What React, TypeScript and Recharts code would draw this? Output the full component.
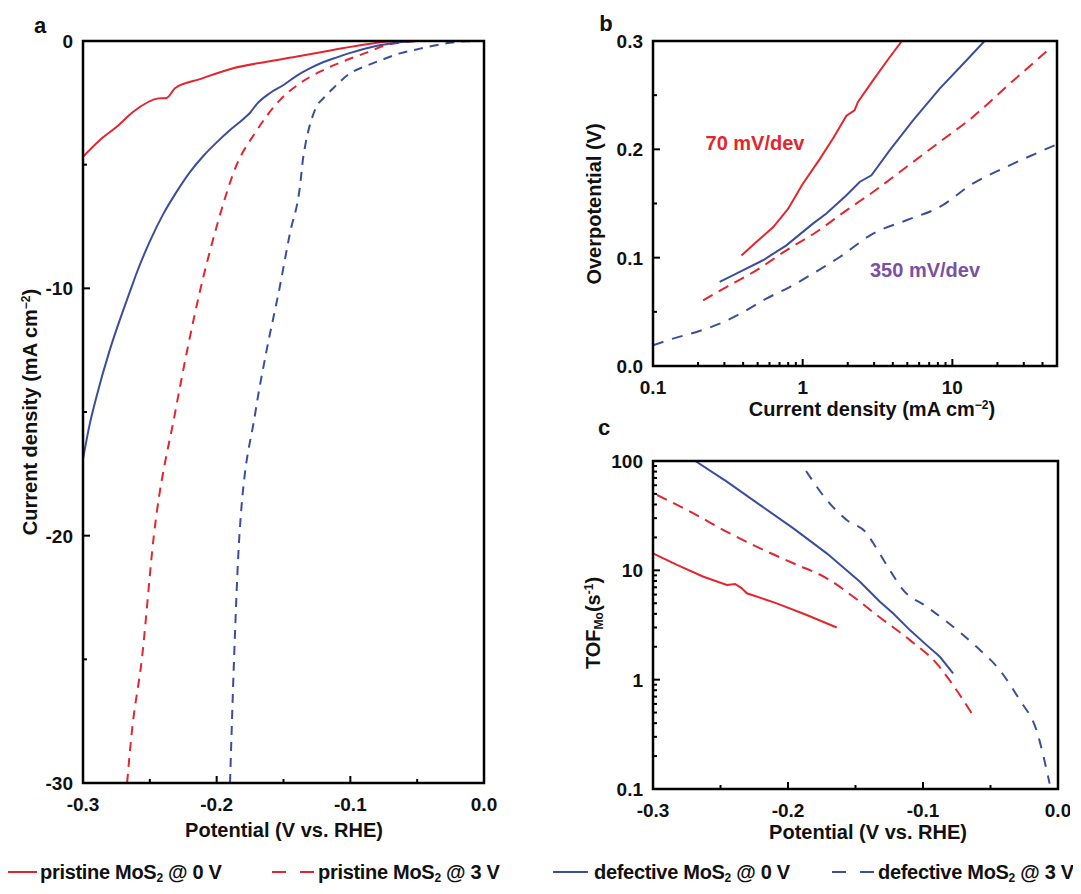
import React from 'react';
import { LineChart, Line, XAxis, YAxis } from 'recharts';

const RED = '#e3262d';
const BLUE = '#3a4e9b';
const FONT = '"Liberation Sans", Arial, sans-serif';

// panel a: linear sweep voltammetry, [potential V vs RHE, current density mA/cm2]
const lsvPristine0V: [number, number][] = [
  [-0.3, -4.68], [-0.2873, -4.0], [-0.2748, -3.47], [-0.2624, -2.86], [-0.2437, -2.32], [-0.2374, -2.3],
  [-0.2312, -1.91], [-0.2125, -1.54], [-0.1876, -1.1], [-0.1626, -0.84], [-0.1377, -0.61], [-0.1128, -0.36],
  [-0.0878, -0.13], [-0.068, -0.01], [-0.05, 0], [0, 0],
];
const lsvPristine3V: [number, number][] = [
  [-0.267, -30], [-0.2636, -28], [-0.256, -25], [-0.247, -20], [-0.231, -15], [-0.212, -10], [-0.2, -7.5],
  [-0.185, -5], [-0.1714, -3.73], [-0.1527, -2.39], [-0.1377, -1.71], [-0.1227, -1.24], [-0.1028, -0.77],
  [-0.0878, -0.47], [-0.0729, -0.16], [-0.058, -0.04], [-0.046, 0], [0, 0],
];
const lsvDefective0V: [number, number][] = [
  [-0.3, -16.9], [-0.295, -15.5], [-0.29, -14.4], [-0.28, -12.5], [-0.27, -10.9], [-0.264, -10.0], [-0.26, -9.4],
  [-0.25, -8.1], [-0.24, -7.0], [-0.23, -6.1], [-0.22, -5.3], [-0.21, -4.65], [-0.2, -4.1], [-0.19, -3.6],
  [-0.18, -3.15], [-0.175, -2.9], [-0.17, -2.55], [-0.16, -2.1], [-0.15, -1.78], [-0.14, -1.4], [-0.13, -1.1],
  [-0.12, -0.85], [-0.11, -0.66], [-0.1, -0.48], [-0.09, -0.32], [-0.08, -0.19], [-0.07, -0.1], [-0.06, -0.03],
  [-0.05, 0], [0, 0],
];
const lsvDefective3V: [number, number][] = [
  [-0.19, -30], [-0.187, -25], [-0.183, -20], [-0.171, -15], [-0.1626, -12.5], [-0.153, -10], [-0.1452, -7.78],
  [-0.1377, -5.89], [-0.1352, -4.68], [-0.134, -4.3], [-0.1265, -2.79], [-0.119, -2.25], [-0.1128, -1.91],
  [-0.1003, -1.31], [-0.0878, -1.0], [-0.0754, -0.74], [-0.0629, -0.5], [-0.0504, -0.34], [-0.038, -0.19],
  [-0.0255, -0.07], [-0.013, -0.01], [0, 0],
];

// panel b: Tafel plots, [current density mA/cm2, overpotential V]
const tafelPristine0V: [number, number][] = [
  [0.39, 0.102], [0.49, 0.1145], [0.634, 0.128], [0.798, 0.145], [1.0, 0.168], [1.3, 0.191], [1.594, 0.21],
  [1.96, 0.231], [2.22, 0.236], [2.34, 0.2437], [2.95, 0.2637], [3.81, 0.285], [4.6, 0.3],
];
const tafelPristine3V: [number, number][] = [
  [0.216, 0.0606], [0.309, 0.0729], [0.49, 0.0883], [0.778, 0.1068], [1.235, 0.1237], [1.96, 0.1437],
  [2.95, 0.1606], [4.93, 0.1837], [8.23, 0.2068], [13.7, 0.2299], [22.9, 0.2576], [44.7, 0.293],
];
const tafelDefective0V: [number, number][] = [
  [0.279, 0.0776], [0.38, 0.0868], [0.543, 0.0976], [0.778, 0.1114], [1.17, 0.1314], [1.44, 0.1407],
  [1.96, 0.1576], [2.4, 0.1699], [2.88, 0.176], [3.81, 0.199], [5.46, 0.2268], [8.23, 0.256], [12.4, 0.282],
  [16.4, 0.3],
];
const tafelDefective3V: [number, number][] = [
  [0.1, 0.0191], [0.136, 0.0253], [0.195, 0.0314], [0.279, 0.0391], [0.4, 0.0498], [0.571, 0.0622],
  [0.818, 0.0729], [1.17, 0.0853], [1.77, 0.1006], [2.95, 0.1222], [4.93, 0.1345], [8.23, 0.1468],
  [13.7, 0.1684], [22.9, 0.1837], [48.2, 0.2037],
];

// panel c: turnover frequency, [potential V vs RHE, TOF s-1]
const tofPristine0V: [number, number][] = [
  [-0.3, 14.3], [-0.2822, 11.2], [-0.2626, 8.74], [-0.2453, 7.34], [-0.2391, 7.5], [-0.2342, 6.84],
  [-0.2305, 6.17], [-0.2083, 4.99], [-0.1861, 3.9], [-0.1639, 3.0],
];
const tofPristine3V: [number, number][] = [
  [-0.297, 48.9], [-0.27, 33.2], [-0.2453, 22.5], [-0.2206, 15.9], [-0.196, 11.6], [-0.1713, 8.46],
  [-0.1516, 5.73], [-0.1343, 3.9], [-0.1097, 2.3], [-0.09, 1.41], [-0.0751, 0.8], [-0.0629, 0.47],
];
const tofDefective0V: [number, number][] = [
  [-0.2687, 100], [-0.2453, 64.7], [-0.2206, 39.5], [-0.196, 24.2], [-0.1713, 14.3], [-0.1467, 7.87],
  [-0.1319, 5.17], [-0.122, 4.03], [-0.1097, 2.84], [-0.0973, 2.07], [-0.0875, 1.62], [-0.0777, 1.14],
];
const tofDefective3V: [number, number][] = [
  [-0.1866, 81], [-0.1713, 44], [-0.1565, 28.8], [-0.1417, 21.8], [-0.1368, 17.7], [-0.1245, 10],
  [-0.1146, 6.6], [-0.0973, 4.65], [-0.0777, 3.05], [-0.0604, 2.0], [-0.0431, 1.22], [-0.0283, 0.65],
  [-0.016, 0.346], [-0.0062, 0.112],
];

// ticks
const potentialTicks = [-0.3, -0.25, -0.2, -0.15, -0.1, -0.05, 0];
const potentialLabels = [-0.3, -0.2, -0.1, 0];
const currentTicks = [-30, -25, -20, -15, -10, -5, 0];
const currentLabels = [-30, -20, -10, 0];
const etaTicks = [0, 0.05, 0.1, 0.15, 0.2, 0.25, 0.3];
const etaLabels = [0, 0.1, 0.2, 0.3];
const jLogTicks = [0.1, 0.2, 0.3, 0.4, 0.5, 0.6, 0.7, 0.8, 0.9, 1, 2, 3, 4, 5, 6, 7, 8, 9, 10, 20, 30, 40];
const jLogLabels = [0.1, 1, 10];
const tofTicks = [0.1, 0.2, 0.3, 0.4, 0.5, 0.6, 0.7, 0.8, 0.9, 1, 2, 3, 4, 5, 6, 7, 8, 9, 10, 20, 30, 40, 50, 60, 70, 80, 90, 100];
const tofLabels = [0.1, 1, 10, 100];

const pts = (a: [number, number][]) => a.map(([x, y]) => ({ x, y }));
const near = (a: number, b: number) => Math.abs(a - b) < 1e-9;

const tickText: React.CSSProperties = { fontFamily: FONT, fontWeight: 700, fontSize: 19, fill: '#111' };

const makeXTick = (labels: number[], fmt: (v: number) => string) => (p: any) => {
  const { x, y, payload } = p;
  const major = labels.some((l) => near(l, payload.value));
  return (
    <g>
      <line x1={x} x2={x} y1={y} y2={y - (major ? 7 : 4)} stroke="#000" strokeWidth={2} />
      {major && (
        <text x={x} y={y + 28} textAnchor="middle" style={tickText}>
          {fmt(payload.value)}
        </text>
      )}
    </g>
  );
};

const makeYTick = (labels: number[], fmt: (v: number) => string) => (p: any) => {
  const { x, y, payload } = p;
  const major = labels.some((l) => near(l, payload.value));
  return (
    <g>
      <line x1={x} x2={x + (major ? 7 : 4)} y1={y} y2={y} stroke="#000" strokeWidth={2} />
      {major && (
        <text x={x - 10} y={y + 7} textAnchor="end" style={tickText}>
          {fmt(payload.value)}
        </text>
      )}
    </g>
  );
};

const fmt1 = (v: number) => v.toFixed(1);
const fmtInt = (v: number) => String(v);
const fmtLog = (v: number) => String(v);

const axisLine = { stroke: '#000', strokeWidth: 2 };

const Title = ({ left, top, rotate, children, size = 20 }: { left: number; top: number; rotate?: boolean; children: React.ReactNode; size?: number }) => (
  <div
    style={{
      position: 'absolute',
      left,
      top,
      transform: `translate(-50%, -50%)${rotate ? ' rotate(-90deg)' : ''}`,
      whiteSpace: 'nowrap',
      fontFamily: FONT,
      fontWeight: 700,
      fontSize: size,
      color: '#111',
      lineHeight: 1,
    }}
  >
    {children}
  </div>
);

const Sup = ({ children }: { children: React.ReactNode }) => (
  <span style={{ fontSize: '0.6em', verticalAlign: '0.6em' }}>{children}</span>
);
const Sub = ({ children }: { children: React.ReactNode }) => (
  <span style={{ fontSize: '0.6em', verticalAlign: '-0.3em' }}>{children}</span>
);

// full box around a plot area, drawn over the chart
const Box = ({ left, top, right, bottom }: { left: number; top: number; right: number; bottom: number }) => (
  <svg
    style={{ position: 'absolute', left: left - 2, top: top - 2, pointerEvents: 'none', zIndex: 5 }}
    width={right - left + 4}
    height={bottom - top + 4}
  >
    <rect x={2} y={2} width={right - left} height={bottom - top} fill="none" stroke="#000" strokeWidth={2.5} />
  </svg>
);

const PanelA = () => (
  <LineChart width={500} height={830} margin={{ top: 41, right: 16, bottom: 0, left: 0 }}>
    <XAxis
      dataKey="x"
      type="number"
      domain={[-0.3, 0]}
      ticks={potentialTicks}
      interval={0}
      allowDataOverflow
      tickSize={0}
      tickMargin={0}
      tickLine={false}
      axisLine={axisLine}
      height={47}
      tick={makeXTick(potentialLabels, fmt1)}
    />
    <YAxis
      type="number"
      domain={[-30, 0]}
      ticks={currentTicks}
      interval={0}
      allowDataOverflow
      tickSize={0}
      tickMargin={0}
      tickLine={false}
      axisLine={axisLine}
      width={83}
      tick={makeYTick(currentLabels, fmtInt)}
    />
    <Line data={pts(lsvPristine0V)} dataKey="y" type="monotone" stroke={RED} strokeWidth={2} dot={false} isAnimationActive={false} />
    <Line data={pts(lsvPristine3V)} dataKey="y" type="monotone" stroke={RED} strokeWidth={2} strokeDasharray="9 7" dot={false} isAnimationActive={false} />
    <Line data={pts(lsvDefective0V)} dataKey="y" type="monotone" stroke={BLUE} strokeWidth={2} dot={false} isAnimationActive={false} />
    <Line data={pts(lsvDefective3V)} dataKey="y" type="monotone" stroke={BLUE} strokeWidth={2} strokeDasharray="9 7" dot={false} isAnimationActive={false} />
  </LineChart>
);

const PanelB = () => (
  <LineChart width={510} height={400} margin={{ top: 41, right: 13, bottom: 0, left: 0 }}>
    <XAxis
      dataKey="x"
      type="number"
      scale="log"
      domain={[0.1, 50]}
      ticks={jLogTicks}
      interval={0}
      allowDataOverflow
      tickSize={0}
      tickMargin={0}
      tickLine={false}
      axisLine={axisLine}
      height={34}
      tick={makeXTick(jLogLabels, fmtLog)}
    />
    <YAxis
      type="number"
      domain={[0, 0.3]}
      ticks={etaTicks}
      interval={0}
      allowDataOverflow
      tickSize={0}
      tickMargin={0}
      tickLine={false}
      axisLine={axisLine}
      width={93}
      tick={makeYTick(etaLabels, fmt1)}
    />
    <Line data={pts(tafelPristine0V)} dataKey="y" type="linear" stroke={RED} strokeWidth={2} dot={false} isAnimationActive={false} />
    <Line data={pts(tafelPristine3V)} dataKey="y" type="monotone" stroke={RED} strokeWidth={2} strokeDasharray="11 7" dot={false} isAnimationActive={false} />
    <Line data={pts(tafelDefective0V)} dataKey="y" type="linear" stroke={BLUE} strokeWidth={2} dot={false} isAnimationActive={false} />
    <Line data={pts(tafelDefective3V)} dataKey="y" type="monotone" stroke={BLUE} strokeWidth={2} strokeDasharray="11 9" dot={false} isAnimationActive={false} />
  </LineChart>
);

const PanelC = () => (
  <LineChart width={510} height={400} margin={{ top: 41, right: 12, bottom: 0, left: 0 }}>
    <XAxis
      dataKey="x"
      type="number"
      domain={[-0.3, 0]}
      ticks={potentialTicks}
      interval={0}
      allowDataOverflow
      tickSize={0}
      tickMargin={0}
      tickLine={false}
      axisLine={axisLine}
      height={31}
      tick={makeXTick(potentialLabels, fmt1)}
    />
    <YAxis
      type="number"
      scale="log"
      domain={[0.1, 100]}
      ticks={tofTicks}
      interval={0}
      allowDataOverflow
      tickSize={0}
      tickMargin={0}
      tickLine={false}
      axisLine={axisLine}
      width={93}
      tick={makeYTick(tofLabels, fmtLog)}
    />
    <Line data={pts(tofPristine0V)} dataKey="y" type="linear" stroke={RED} strokeWidth={2} dot={false} isAnimationActive={false} />
    <Line data={pts(tofPristine3V)} dataKey="y" type="monotone" stroke={RED} strokeWidth={2} strokeDasharray="11 7" dot={false} isAnimationActive={false} />
    <Line data={pts(tofDefective0V)} dataKey="y" type="linear" stroke={BLUE} strokeWidth={2} dot={false} isAnimationActive={false} />
    <Line data={pts(tofDefective3V)} dataKey="y" type="monotone" stroke={BLUE} strokeWidth={2} strokeDasharray="10 9" dot={false} isAnimationActive={false} />
  </LineChart>
);

const legendItems = [
  { color: RED, dashed: false, lineX: 2, textX: 40, label: 'pristine MoS', tail: ' @ 0 V' },
  { color: RED, dashed: true, lineX: 272, textX: 318, label: 'pristine MoS', tail: ' @ 3 V' },
  { color: BLUE, dashed: false, lineX: 553, textX: 594, label: 'defective MoS', tail: ' @ 0 V' },
  { color: BLUE, dashed: true, lineX: 832, textX: 878, label: 'defective MoS', tail: ' @ 3 V' },
];

const Legend = () => (
  <>
    {legendItems.map((it) => (
      <React.Fragment key={it.textX}>
        <svg style={{ position: 'absolute', left: it.lineX, top: 866 }} width={42} height={12}>
          <line x1={0} x2={it.dashed ? 42 : 35} y1={6} y2={6} stroke={it.color} strokeWidth={2} strokeDasharray={it.dashed ? '14 14' : undefined} />
        </svg>
        <div
          style={{
            position: 'absolute',
            left: it.textX,
            top: 873,
            transform: 'translateY(-50%)',
            whiteSpace: 'nowrap',
            fontFamily: FONT,
            fontWeight: 700,
            fontSize: 20,
            letterSpacing: -0.3,
            color: '#111',
            lineHeight: 1,
          }}
        >
          {it.label}
          <Sub>2</Sub>
          {it.tail}
        </div>
      </React.Fragment>
    ))}
  </>
);

export default function App() {
  return (
    <div style={{ position: 'relative', margin: -8, width: 1081, height: 894, background: '#fff', overflow: 'hidden' }}>
      <div style={{ position: 'absolute', left: 0, top: 0 }}>
        <PanelA />
      </div>
      <div style={{ position: 'absolute', left: 560, top: 0 }}>
        <PanelB />
      </div>
      <div style={{ position: 'absolute', left: 560, top: 420 }}>
        <PanelC />
      </div>

      <Box left={83} top={41} right={484} bottom={783} />
      <Box left={653} top={41} right={1057} bottom={366} />
      <Box left={653} top={461} right={1058} bottom={789} />

      <Title left={40} top={26} size={22}>a</Title>
      <Title left={606} top={24} size={22}>b</Title>
      <Title left={604} top={428} size={22}>c</Title>

      <Title left={30} top={412} rotate>
        Current density (mA cm<Sup>−2</Sup>)
      </Title>
      <Title left={284} top={830}>Potential (V vs. RHE)</Title>

      <Title left={594} top={204} rotate>Overpotential (V)</Title>
      <Title left={872} top={409}>
        Current density (mA cm<Sup>−2</Sup>)
      </Title>

      <Title left={594} top={623} rotate>
        TOF<Sub>Mo</Sub>(s<Sup>-1</Sup>)
      </Title>
      <Title left={868} top={832}>Potential (V vs. RHE)</Title>

      <div style={{ position: 'absolute', left: 755, top: 143, transform: 'translate(-50%, -50%)', fontFamily: FONT, fontWeight: 700, fontSize: 20, color: RED, whiteSpace: 'nowrap' }}>
        70 mV/dev
      </div>
      <div style={{ position: 'absolute', left: 925, top: 270, transform: 'translate(-50%, -50%)', fontFamily: FONT, fontWeight: 700, fontSize: 20, color: '#7b50a3', whiteSpace: 'nowrap' }}>
        350 mV/dev
      </div>

      <Legend />
    </div>
  );
}
